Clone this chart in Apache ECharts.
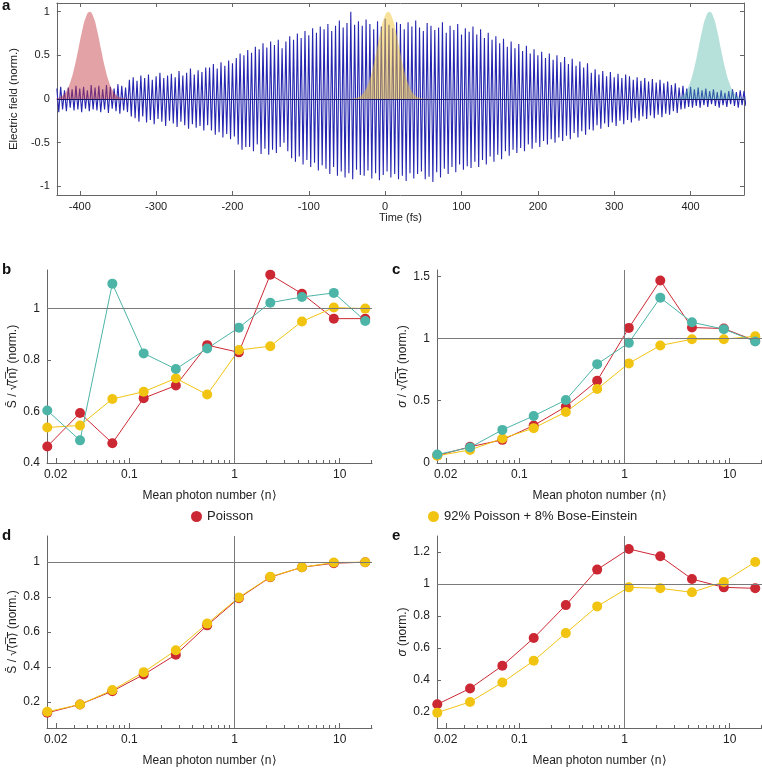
<!DOCTYPE html>
<html>
<head>
<meta charset="utf-8">
<script src="https://cdn.jsdelivr.net/npm/echarts@6/dist/echarts.min.js"></script>
<style>
	body{margin:0;background:#fff;}
	#main{width:762px;height:768px;}
</style>
</head>
<body>
<div id="main"></div>
<script>
// panel a: electric field peaks (5 fs spacing, starting at -430 fs)
var fieldStart = -430, fieldStep = 5;
var fieldTop = [
	0.12,0.14,0.10,0.13,0.11,0.15,0.12,0.14,0.10,0.16,
	0.13,0.15,0.11,0.16,0.14,0.12,0.17,0.15,0.13,0.22,
	0.25,0.21,0.27,0.24,0.28,0.22,0.26,0.30,0.24,0.27,
	0.29,0.25,0.32,0.27,0.30,0.35,0.28,0.33,0.31,0.36,
	0.36,0.40,0.35,0.42,0.38,0.44,0.41,0.47,0.52,0.50,
	0.56,0.53,0.60,0.57,0.64,0.59,0.66,0.62,0.68,0.58,
	0.66,0.72,0.68,0.75,0.70,0.78,0.73,0.81,0.76,0.83,
	0.80,0.86,0.78,0.84,0.90,0.82,0.87,1.00,0.85,0.89,
	0.84,0.91,0.86,0.80,0.89,0.83,0.92,0.85,0.81,0.88,
	0.86,0.80,0.88,0.83,0.90,0.82,0.78,0.87,0.84,0.79,
	0.82,0.88,0.76,0.84,0.79,0.86,0.74,0.81,0.77,0.83,
	0.74,0.80,0.70,0.76,0.68,0.72,0.64,0.69,0.60,0.66,
	0.58,0.63,0.55,0.61,0.52,0.57,0.50,0.54,0.47,0.52,
	0.45,0.50,0.42,0.48,0.40,0.46,0.38,0.43,0.36,0.41,
	0.30,0.34,0.28,0.32,0.26,0.31,0.25,0.29,0.24,0.28,
	0.26,0.22,0.25,0.21,0.24,0.20,0.23,0.19,0.22,0.18,
	0.20,0.16,0.18,0.13,0.15,0.12,0.14,0.11,0.13,0.10,
	0.12,0.09,0.11,0.08,0.10,0.07,0.09,0.11,0.08,0.10,
	0.09
];
var fieldBottom = [
	-0.15,-0.12,-0.14,-0.10,-0.13,-0.12,-0.15,-0.11,-0.14,-0.12,
	-0.13,-0.15,-0.12,-0.16,-0.11,-0.14,-0.17,-0.13,-0.15,-0.20,
	-0.22,-0.26,-0.20,-0.27,-0.24,-0.29,-0.23,-0.26,-0.31,-0.25,
	-0.28,-0.32,-0.26,-0.30,-0.34,-0.29,-0.33,-0.31,-0.36,-0.30,
	-0.36,-0.41,-0.38,-0.44,-0.40,-0.46,-0.43,-0.52,-0.58,-0.55,
	-0.55,-0.60,-0.52,-0.63,-0.57,-0.64,-0.58,-0.62,-0.55,-0.50,
	-0.60,-0.68,-0.72,-0.66,-0.75,-0.70,-0.78,-0.73,-0.82,-0.76,
	-0.80,-0.86,-0.78,-0.88,-0.83,-0.90,-0.85,-0.92,-0.81,-0.87,
	-0.88,-0.82,-0.91,-0.85,-0.93,-0.87,-0.83,-0.90,-0.86,-0.92,
	-0.88,-0.94,-0.85,-0.91,-0.86,-0.83,-0.92,-0.89,-0.95,-0.84,
	-0.90,-0.80,-0.86,-0.78,-0.84,-0.75,-0.81,-0.77,-0.79,-0.72,
	-0.78,-0.70,-0.75,-0.66,-0.72,-0.64,-0.69,-0.60,-0.65,-0.58,
	-0.62,-0.56,-0.60,-0.52,-0.57,-0.50,-0.55,-0.48,-0.52,-0.46,
	-0.50,-0.44,-0.48,-0.42,-0.46,-0.39,-0.44,-0.37,-0.41,-0.35,
	-0.36,-0.30,-0.34,-0.28,-0.32,-0.27,-0.31,-0.25,-0.29,-0.24,
	-0.27,-0.22,-0.25,-0.20,-0.23,-0.19,-0.22,-0.18,-0.21,-0.17,
	-0.18,-0.14,-0.16,-0.12,-0.11,-0.09,-0.10,-0.08,-0.10,-0.07,
	-0.09,-0.06,-0.08,-0.10,-0.07,-0.09,-0.06,-0.08,-0.10,-0.07,
	-0.08
];
// pulse shapes (offset from centre in fs)
var pulseOffset = [-55,-50,-45,-40,-35,-30,-25,-20,-15,-10,-5,0,5,10,15,20,25,30,35,40,45,50,55];
var pulseShape = [0.0004,0.0017,0.0057,0.017,0.044,0.101,0.203,0.36,0.563,0.775,0.938,1,
	0.938,0.775,0.563,0.36,0.203,0.101,0.044,0.017,0.0057,0.0017,0.0004];
var pulseCenters = [-387, 4, 425];
var timeTicks = [-400,-300,-200,-100,0,100,200,300,400];
var fieldTicks = [-1,-0.5,0,0.5,1];

// panels b-e
var photonNumber = [0.0166,0.034,0.069,0.137,0.277,0.55,1.1,2.19,4.38,8.8,17.5];
var photonTicks = [0.02,0.1,1,10];
var photonMinor = [0.02,0.03,0.04,0.05,0.06,0.07,0.08,0.09,0.2,0.3,0.4,0.5,0.6,0.7,0.8,0.9,2,3,4,5,6,7,8,9,20];

var bPoisson = [0.464,0.594,0.477,0.652,0.701,0.858,0.830,1.132,1.058,0.961,0.961];
var bMixed = [0.538,0.546,0.649,0.677,0.729,0.666,0.839,0.854,0.950,1.004,1.0];
var bMeasured = [0.604,0.488,1.097,0.826,0.765,0.845,0.926,1.023,1.045,1.061,0.952];

var cPoisson = [0.06,0.13,0.186,0.301,0.453,0.661,1.085,1.466,1.088,1.080,0.981];
var cMixed = [0.058,0.105,0.197,0.28,0.41,0.594,0.8,0.944,0.994,0.994,1.018];
var cMeasured = [0.068,0.125,0.266,0.378,0.506,0.794,0.965,1.328,1.13,1.075,0.976];

var dPoisson = [0.137,0.185,0.261,0.356,0.470,0.638,0.794,0.914,0.971,0.994,1.0];
var dMixed = [0.143,0.185,0.267,0.370,0.495,0.648,0.798,0.916,0.971,0.998,1.0];

var ePoisson = [0.248,0.347,0.489,0.662,0.868,1.090,1.219,1.173,1.031,0.979,0.973];
var eMixed = [0.196,0.263,0.384,0.520,0.693,0.860,0.979,0.973,0.948,1.013,1.138];

var red = '#cc2833', yellow = '#f2c412', teal = '#4db5a8';
var font = 'Liberation Sans, Arial, sans-serif';

var fieldData = [];
fieldTop.forEach(function(v, i){
	var t = fieldStart + i * fieldStep;
	fieldData.push([t, v]);
	fieldData.push([t + fieldStep / 2, fieldBottom[i]]);
});
function pulse(c){
	return pulseOffset.map(function(o, i){ return [c + o, pulseShape[i]]; });
}
function pairs(ys){
	return ys.map(function(y, i){ return [photonNumber[i], y]; });
}

var grids = [
	{left:52, top:3, width:692, height:192},
	{left:47, top:270, width:325, height:193},
	{left:437, top:270, width:325, height:193},
	{left:47, top:536, width:325, height:193},
	{left:437, top:536, width:325, height:193}
];

var axisGray = '#666';
var labelStyle = {color:'#222', fontFamily:font, fontSize:12};

function photonAxis(g){
	return {
		type:'log', gridIndex:g, min:0.0165, max:20.3, position:'bottom',
		axisLine:{onZero:false, lineStyle:{color:axisGray}},
		axisTick:{inside:true, length:5, customValues:photonTicks, lineStyle:{color:axisGray}},
		axisLabel:Object.assign({customValues:photonTicks, margin:6,
			formatter:function(v){ return String(+(+v).toPrecision(3)); }}, labelStyle),
		splitLine:{show:false},
		name:'Mean photon number ⟨n⟩', nameLocation:'middle', nameGap:27,
		nameTextStyle:{color:'#222', fontFamily:font, fontSize:12}
	};
}
function photonMinorAxis(g){
	return {
		type:'log', gridIndex:g, min:0.0165, max:20.3, position:'bottom',
		axisLine:{show:false, onZero:false},
		axisTick:{inside:true, length:3, customValues:photonMinor, lineStyle:{color:axisGray}},
		axisLabel:{show:false}, splitLine:{show:false}
	};
}
function valueAxis(g, min, max, ticks, name){
	return {
		type:'value', gridIndex:g, min:min, max:max, position:'left',
		axisLine:{show:true, onZero:false, lineStyle:{color:axisGray}},
		axisTick:{show:true, inside:true, length:4, customValues:ticks, lineStyle:{color:axisGray}},
		axisLabel:Object.assign({customValues:ticks, margin:7}, labelStyle),
		splitLine:{show:false},
		name:name, nameLocation:'middle', nameGap:28, nameRotate:90,
		nameTextStyle:{color:'#222', fontFamily:font, fontSize:12, rich:{i:{fontStyle:'italic', fontFamily:font, fontSize:12, color:'#222'}}}
	};
}
function refLines(){
	return {
		silent:true, symbol:'none', label:{show:false},
		lineStyle:{color:'#7a7a7a', width:1, type:'solid'},
		data:[{xAxis:1}, {yAxis:1}]
	};
}
function dots(name, color, xi, yi, ys, withRef){
	var s = {
		name:name, type:'line', xAxisIndex:xi, yAxisIndex:yi, data:pairs(ys),
		symbol:'circle', symbolSize:10, showSymbol:true, clip:false,
		itemStyle:{color:color}, lineStyle:{color:color, width:1}, animation:false
	};
	if(withRef) s.markLine = refLines();
	return s;
}

var xAxis = [
	{type:'value', gridIndex:0, min:-430, max:470, position:'bottom',
		axisLine:{onZero:false, lineStyle:{color:axisGray}},
		axisTick:{inside:true, length:4, customValues:timeTicks, lineStyle:{color:axisGray}},
		axisLabel:Object.assign({customValues:timeTicks, margin:6}, labelStyle, {fontSize:11}),
		splitLine:{show:false},
		name:'Time (fs)', nameLocation:'middle', nameGap:17,
		nameTextStyle:{color:'#222', fontFamily:font, fontSize:11}},
	{type:'value', gridIndex:0, min:-430, max:470, position:'top',
		axisLine:{onZero:false, lineStyle:{color:axisGray}},
		axisTick:{inside:true, length:4, customValues:timeTicks, lineStyle:{color:axisGray}},
		axisLabel:{show:false}, splitLine:{show:false}},
	photonAxis(1), photonAxis(2), photonAxis(3), photonAxis(4),
	photonMinorAxis(1), photonMinorAxis(2), photonMinorAxis(3), photonMinorAxis(4)
];
var fieldAxis = valueAxis(0, -1.1, 1.1, fieldTicks, 'Electric field (norm.)');
fieldAxis.nameGap = 26;
fieldAxis.axisLabel.fontSize = 11;
fieldAxis.nameTextStyle.fontSize = 11.5;
var yAxis = [
	fieldAxis,
	{type:'value', gridIndex:0, min:-1.1, max:1.1, position:'right',
		axisLine:{show:true, onZero:false, lineStyle:{color:axisGray}},
		axisTick:{show:true, inside:true, length:4, customValues:fieldTicks, lineStyle:{color:axisGray}},
		axisLabel:{show:false}, splitLine:{show:false}},
	valueAxis(1, 0.4, 1.15, [0.4,0.6,0.8,1], 'S̄ / √⟨̅n̅⟩̅ (norm.)'),
	valueAxis(2, 0, 1.55, [0,0.5,1,1.5], '{i|σ} / √⟨̅n̅⟩̅ (norm.)'),
	valueAxis(3, 0.05, 1.15, [0.2,0.4,0.6,0.8,1], 'S̄ / √⟨̅n̅⟩̅ (norm.)'),
	valueAxis(4, 0.1, 1.3, [0.2,0.4,0.6,0.8,1,1.2], '{i|σ} (norm.)')
];

var series = [
	{name:'field', type:'line', xAxisIndex:0, yAxisIndex:0, data:fieldData,
		showSymbol:false, symbol:'none', animation:false, z:2,
		lineStyle:{color:'#2626b0', width:1.1},
		markLine:{silent:true, symbol:'none', label:{show:false},
			lineStyle:{color:'#161660', width:1.2, type:'solid'}, data:[{yAxis:0}]}},
	{name:'pulse1', type:'line', xAxisIndex:0, yAxisIndex:0, data:pulse(pulseCenters[0]),
		smooth:true, showSymbol:false, symbol:'none', animation:false, z:3,
		lineStyle:{width:0}, areaStyle:{color:'rgba(195,60,66,0.68)'}},
	{name:'pulse2', type:'line', xAxisIndex:0, yAxisIndex:0, data:pulse(pulseCenters[1]),
		smooth:true, showSymbol:false, symbol:'none', animation:false, z:3,
		lineStyle:{width:0}, areaStyle:{color:'rgba(240,196,50,0.7)'}},
	{name:'pulse3', type:'line', xAxisIndex:0, yAxisIndex:0, data:pulse(pulseCenters[2]),
		smooth:true, showSymbol:false, symbol:'none', animation:false, z:3,
		lineStyle:{width:0}, areaStyle:{color:'rgba(70,175,160,0.56)'}},

	dots('Poisson', red, 2, 2, bPoisson, true),
	dots('92% Poisson + 8% Bose-Einstein', yellow, 2, 2, bMixed, false),
	dots('measured', teal, 2, 2, bMeasured, false),

	dots('Poisson', red, 3, 3, cPoisson, true),
	dots('92% Poisson + 8% Bose-Einstein', yellow, 3, 3, cMixed, false),
	dots('measured', teal, 3, 3, cMeasured, false),

	dots('Poisson', red, 4, 4, dPoisson, true),
	dots('92% Poisson + 8% Bose-Einstein', yellow, 4, 4, dMixed, false),

	dots('Poisson', red, 5, 5, ePoisson, true),
	dots('92% Poisson + 8% Bose-Einstein', yellow, 5, 5, eMixed, false)
];

var letters = [['a',2,-2],['b',2,262],['c',392,262],['d',2,528],['e',392,528]];
var graphic = letters.map(function(l){
	return {type:'text', left:l[1], top:l[2],
		style:{text:l[0], font:'bold 15px ' + font, fill:'#111'}};
});

var legendBase = {
	icon:'circle', itemWidth:11, itemHeight:11, itemGap:10,
	textStyle:{color:'#222', fontFamily:font, fontSize:13},
	selectedMode:false
};

var chart = echarts.init(document.getElementById('main'));
chart.setOption({
	backgroundColor:'#fff',
	animation:false,
	grid:grids,
	xAxis:xAxis,
	yAxis:yAxis,
	legend:[
		Object.assign({left:186, top:505, data:['Poisson']}, legendBase),
		Object.assign({left:423, top:505, data:['92% Poisson + 8% Bose-Einstein']}, legendBase)
	],
	graphic:graphic,
	series:series
});
</script>
</body>
</html>
